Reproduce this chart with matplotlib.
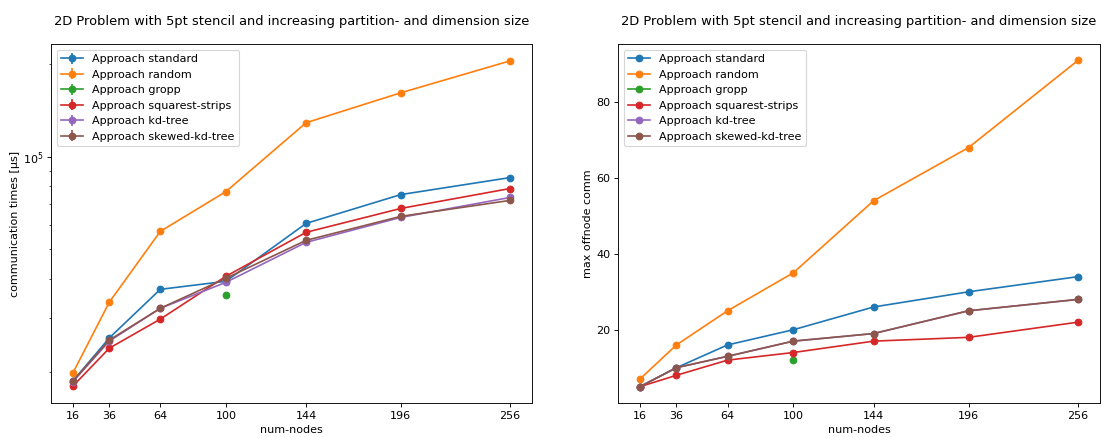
import matplotlib
matplotlib.use("Agg")
import matplotlib.pyplot as plt

nodes = [16, 36, 64, 100, 144, 196, 256]
approaches = ["standard", "random", "gropp", "squarest-strips", "kd-tree", "skewed-kd-tree"]

# communication times [µs]
time_standard = [18700, 25800, 37100, 39400, 60700, 75300, 85500]
time_random = [19850, 33700, 57200, 77000, 128800, 161100, 204500]
time_gropp = [None, None, None, 35500, None, None, None]
time_strips = [18000, 23900, 29700, 40900, 56800, 67900, 78800]
time_kd = [18600, 25200, 32200, 39100, 52700, 63500, 73700]
time_skewed = [18700, 25400, 32200, 40300, 53500, 64000, 72100]

# max offnode comm
comm_standard = [5, 10, 16, 20, 26, 30, 34]
comm_random = [7, 16, 25, 35, 54, 68, 91]
comm_gropp = [None, None, None, 12, None, None, None]
comm_strips = [5, 8, 12, 14, 17, 18, 22]
comm_kd = [5, 10, 13, 17, 19, 25, 28]
comm_skewed = [5, 10, 13, 17, 19, 25, 28]

times = [time_standard, time_random, time_gropp, time_strips, time_kd, time_skewed]
comms = [comm_standard, comm_random, comm_gropp, comm_strips, comm_kd, comm_skewed]

title = "2D Problem with 5pt stencil and increasing partition- and dimension size"

def pts(vals):
    xs = [n for n, v in zip(nodes, vals) if v is not None]
    ys = [v for v in vals if v is not None]
    return xs, ys

DPI = 80
W, H = 1102, 437
fig = plt.figure(figsize=(W / DPI, H / DPI), dpi=DPI)
ax1 = fig.add_axes([51 / W, 1 - 403 / H, (532 - 51) / W, (403 - 44) / H])
ax2 = fig.add_axes([618 / W, 1 - 403 / H, (1100 - 618) / W, (403 - 44) / H])

for name, vals in zip(approaches, times):
    xs, ys = pts(vals)
    err = [v * 0.004 for v in ys]
    ax1.errorbar(xs, ys, yerr=err, marker="o", label="Approach " + name)
ax1.set_yscale("log")
ax1.set_ylabel("communication times [µs]", labelpad=2)

for name, vals in zip(approaches, comms):
    xs, ys = pts(vals)
    ax2.plot(xs, ys, marker="o", label="Approach " + name)
ax2.set_ylabel("max offnode comm", labelpad=3)

for ax in (ax1, ax2):
    ax.set_title(title, pad=17, fontsize=11.7)
    ax.set_xlabel("num-nodes")
    ax.set_xticks(nodes)
    ax.set_xticklabels([str(n) for n in nodes])
    ax.legend(loc="upper left")

fig.savefig("out.png", dpi=DPI)
